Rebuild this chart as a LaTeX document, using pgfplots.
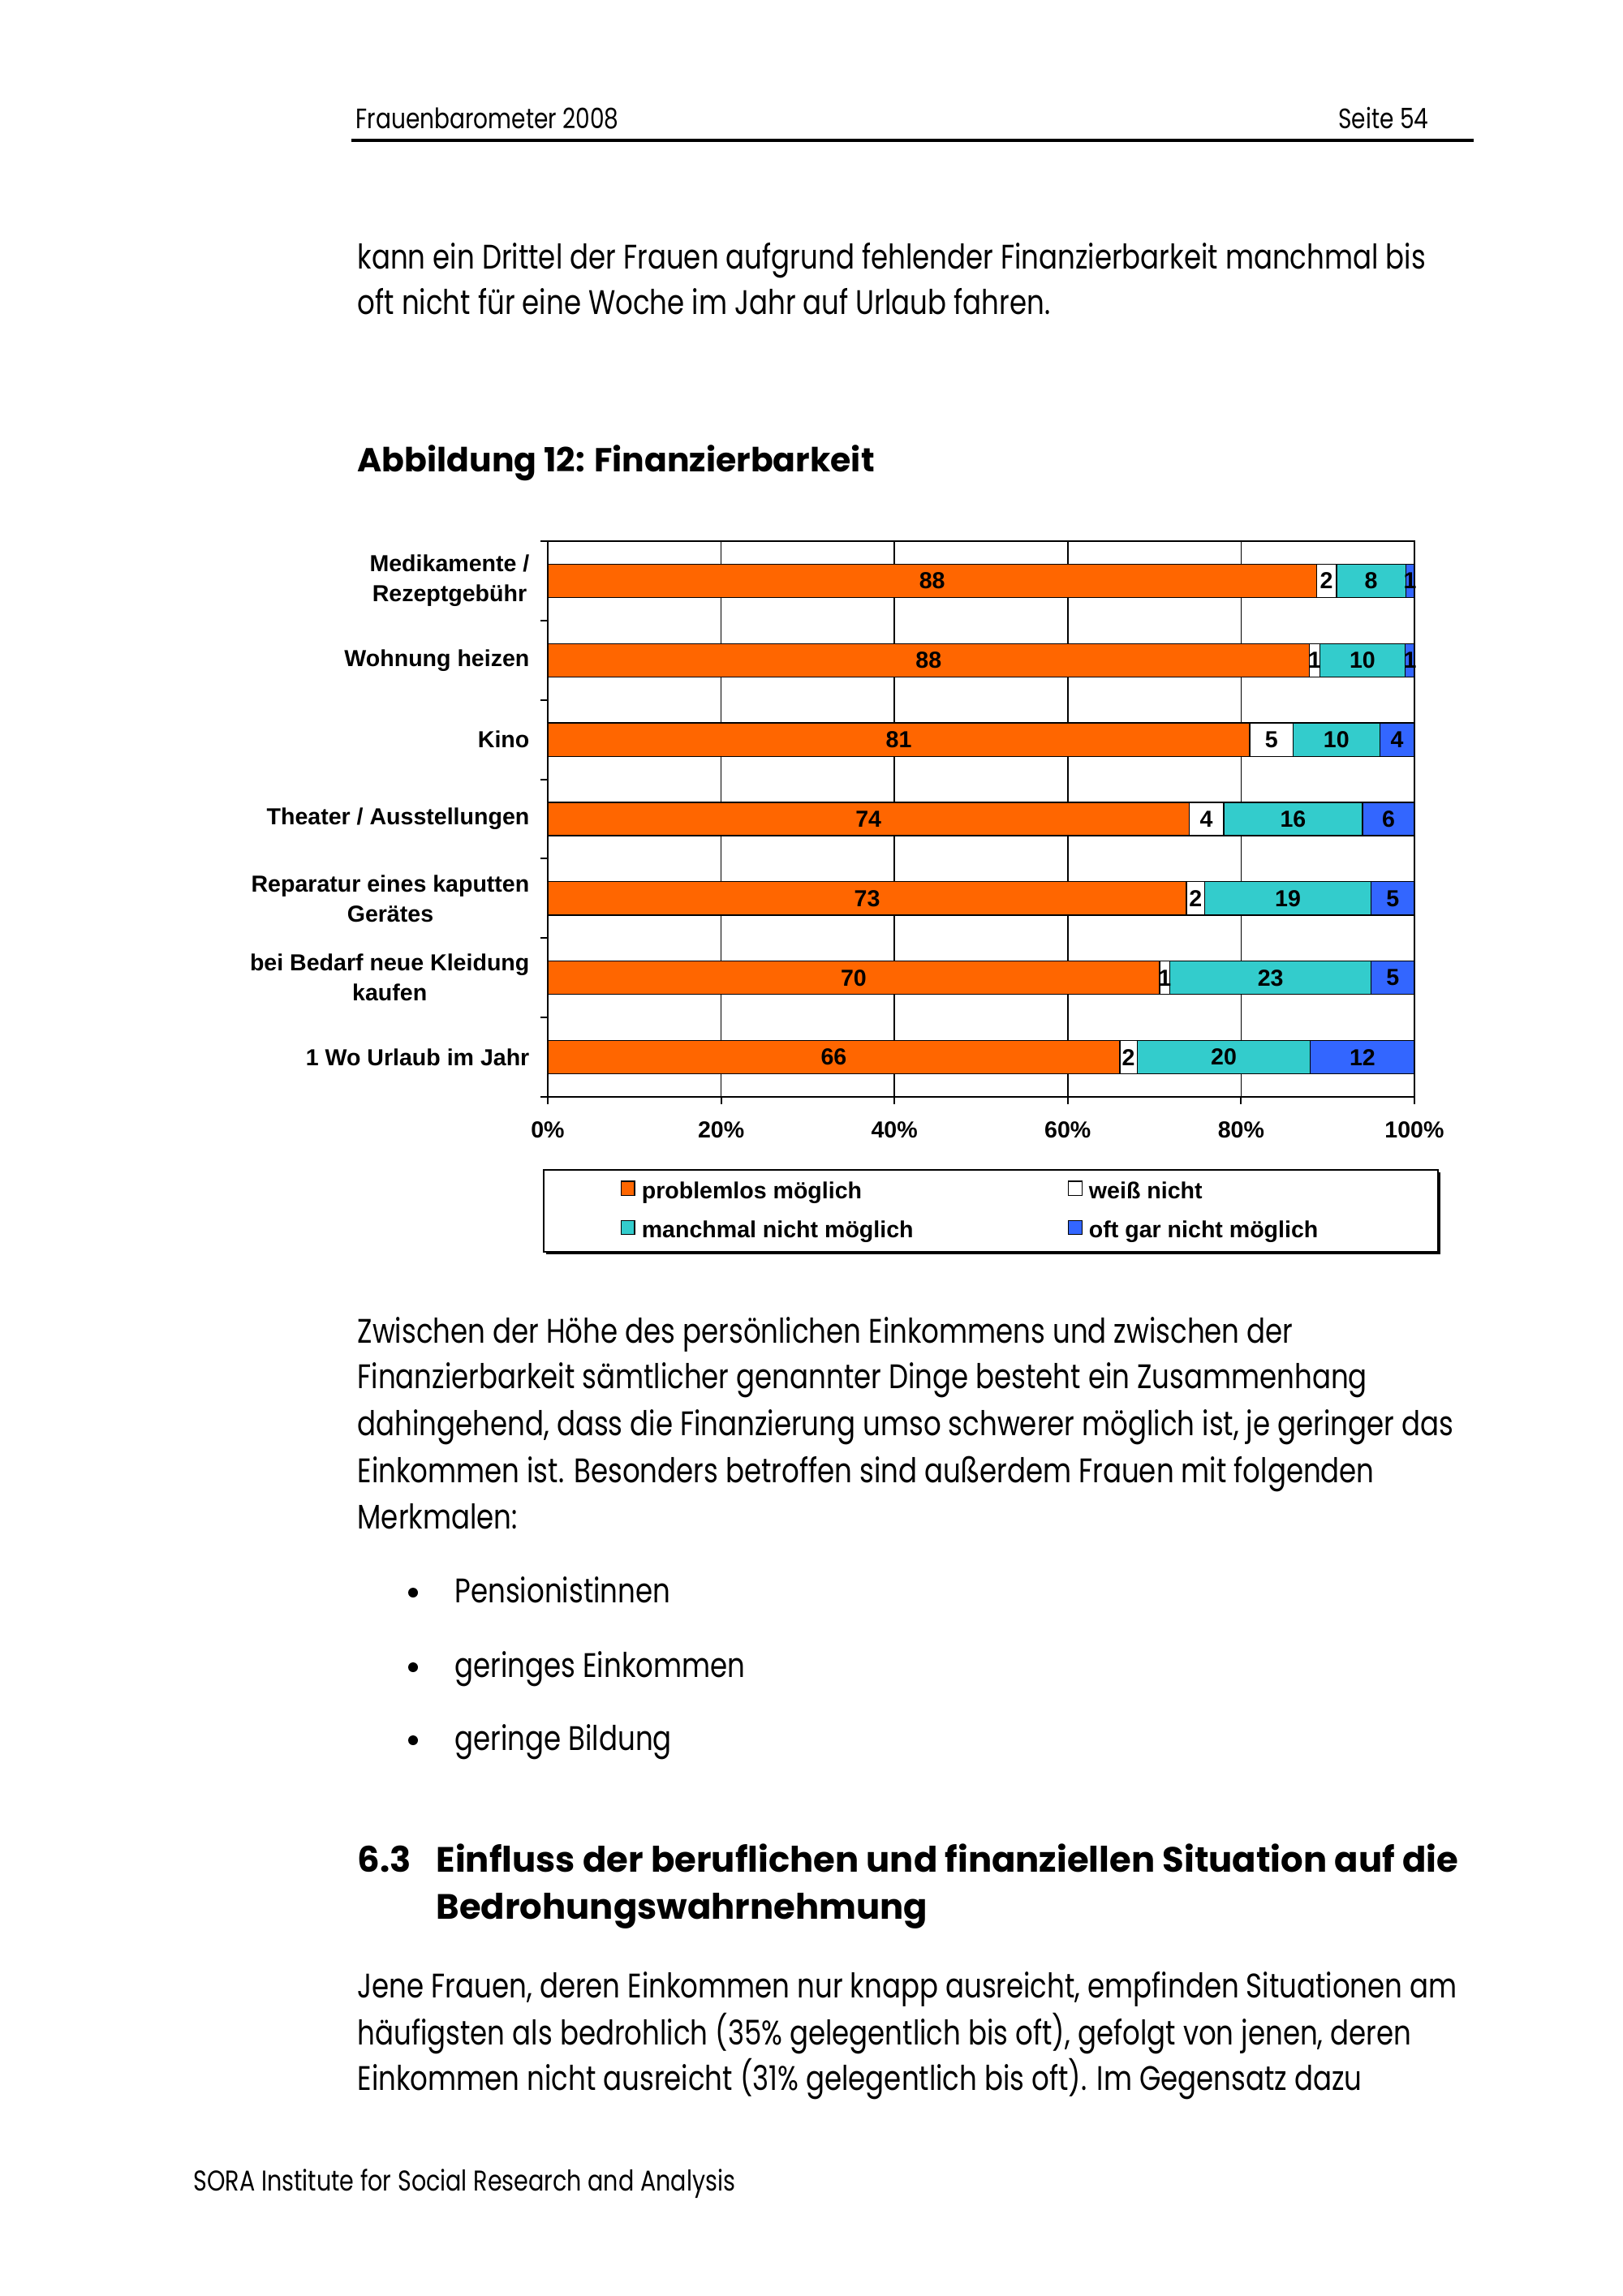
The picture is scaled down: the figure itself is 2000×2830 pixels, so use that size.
\documentclass[border=0pt]{standalone}
\usepackage{pgfplots}
\pgfplotsset{compat=1.18}
\usepackage{pgfplotstable}
\usepackage{fontspec}
\setmainfont[FakeStretch=0.81]{Poppins}
\newfontfamily\headfont{Poppins}
\newfontfamily\chartfont{Liberation Sans}
\definecolor{cOrange}{HTML}{FF6600}
\definecolor{cTeal}{HTML}{33CCCC}
\definecolor{cBlue}{HTML}{3366FF}
\newcommand\chartlab{\chartfont\bfseries\fontsize{8.5}{11}\selectfont}
\newcommand\bodyf{\fontsize{12.5}{15}\selectfont}
\newcommand\smallf{\fontsize{10.3}{12}\selectfont}

% segment widths (percent of bar), y = category position
\pgfplotstableread{
y a b c d
0 66.0 2.0 20.0 12.0
1 70.6 1.2 23.2 5.0
2 73.7 2.1 19.2 5.0
3 74.0 4.0 16.0 6.0
4 81.0 5.0 10.0 4.0
5 87.9 1.2 9.8 1.1
6 88.7 2.3 8.0 1.0
}\segs

% data labels: centre of segment, category, shown value
\pgfplotstableread{
x y lab
33.0 0 66
67.0 0 2
78.0 0 20
94.0 0 12
35.3 1 70
71.2 1 1
83.4 1 23
97.5 1 5
36.85 2 73
74.75 2 2
85.4 2 19
97.5 2 5
37.0 3 74
76.0 3 4
86.0 3 16
97.0 3 6
40.5 4 81
83.5 4 5
91.0 4 10
98.0 4 4
43.95 5 88
88.5 5 1
94.0 5 10
99.5 5 1
44.35 6 88
89.85 6 2
95.0 6 8
99.5 6 1
}\labs

\pgfplotsset{mylegend/.style={legend image code/.code={\draw[##1, draw=black, line width=0.4pt] (0pt,-1.2pt) rectangle (5pt,4pt);}}}

\begin{document}
\begin{tikzpicture}
\begin{scope}[x=0.29765pt,y=-0.29765pt]
\useasboundingbox (0,0) rectangle (2000,2830);
% header
\node[anchor=base west, inner sep=0pt, font=\smallf] at (438,159) {Frauenbarometer 2008};
\node[anchor=base east, inner sep=0pt, font=\smallf] at (1761,159) {Seite 54};
\draw[line width=0.9pt] (433,173) -- (1816,173);
% paragraph 1
\node[anchor=base west, inner sep=0pt, font=\bodyf] at (440,332) {kann ein Drittel der Frauen aufgrund fehlender Finanzierbarkeit manchmal bis};
\node[anchor=base west, inner sep=0pt, font=\bodyf] at (440,388) {oft nicht für eine Woche im Jahr auf Urlaub fahren.};
% title
\node[anchor=base west, inner sep=0pt, font=\headfont\fontsize{12.2}{15}\selectfont\bfseries] at (440,581) {Abbildung 12: Finanzierbarkeit};
% legend frame with shadow
\fill[black] (673,1445) rectangle (1775,1546);
\filldraw[fill=white, draw=black, line width=0.5pt] (670,1442) rectangle (1772,1543);
% paragraph 2
\node[anchor=base west, inner sep=0pt, font=\bodyf] at (440,1655) {Zwischen der Höhe des persönlichen Einkommens und zwischen der};
\node[anchor=base west, inner sep=0pt, font=\bodyf] at (440,1711) {Finanzierbarkeit sämtlicher genannter Dinge besteht ein Zusammenhang};
\node[anchor=base west, inner sep=0pt, font=\bodyf] at (440,1769) {dahingehend, dass die Finanzierung umso schwerer möglich ist, je geringer das};
\node[anchor=base west, inner sep=0pt, font=\bodyf] at (440,1827) {Einkommen ist. Besonders betroffen sind außerdem Frauen mit folgenden};
\node[anchor=base west, inner sep=0pt, font=\bodyf] at (440,1884) {Merkmalen:};
% bullets
\fill (509,1963) circle (6);
\fill (509,2055) circle (6);
\fill (509,2145) circle (6);
\node[anchor=base west, inner sep=0pt, font=\bodyf] at (560,1975) {Pensionistinnen};
\node[anchor=base west, inner sep=0pt, font=\bodyf] at (560,2067) {geringes Einkommen};
\node[anchor=base west, inner sep=0pt, font=\bodyf] at (560,2157) {geringe Bildung};
% heading
\node[anchor=base west, inner sep=0pt, font=\headfont\fontsize{12.9}{16}\selectfont\bfseries] at (440,2307) {6.3};
\node[anchor=base west, inner sep=0pt, font=\headfont\fontsize{12.9}{16}\selectfont\bfseries] at (537,2307) {Einfluss der beruflichen und finanziellen Situation auf die};
\node[anchor=base west, inner sep=0pt, font=\headfont\fontsize{12.9}{16}\selectfont\bfseries] at (537,2365) {Bedrohungswahrnehmung};
% paragraph 3
\node[anchor=base west, inner sep=0pt, font=\bodyf] at (440,2462) {Jene Frauen, deren Einkommen nur knapp ausreicht, empfinden Situationen am};
\node[anchor=base west, inner sep=0pt, font=\bodyf] at (440,2520) {häufigsten als bedrohlich (35\% gelegentlich bis oft), gefolgt von jenen, deren};
\node[anchor=base west, inner sep=0pt, font=\bodyf] at (440,2576) {Einkommen nicht ausreicht (31\% gelegentlich bis oft). Im Gegensatz dazu};
% footer
\node[anchor=base west, inner sep=0pt, font=\fontsize{10.5}{12}\selectfont] at (238,2700) {SORA Institute for Social Research and Analysis};
\end{scope}

\begin{axis}[
  at={(200.91pt,-402.42pt)}, anchor=south west,
  scale only axis, width=317.89pt, height=203.89pt,
  xbar stacked, bar width=0.42,
  xmin=0, xmax=100, ymin=-0.5, ymax=6.5,
  axis line style={black, line width=0.6pt},
  xtick={0,20,40,60,80,100},
  xticklabels={0\%,20\%,40\%,60\%,80\%,100\%},
  xmajorgrids, major grid style={black, line width=0.5pt},
  ytick={-0.5,0.5,1.5,2.5,3.5,4.5,5.5},
  yticklabels={{1 Wo Urlaub im Jahr},{bei Bedarf neue Kleidung\\kaufen},{Reparatur eines kaputten\\Gerätes},{Theater / Ausstellungen},{Kino},{Wohnung heizen},{Medikamente /\\Rezeptgebühr}},
  extra y ticks={6.5}, extra y tick labels={},
  tick align=outside, major tick length=2.6pt,
  xtick pos=bottom, ytick pos=left,
  tick style={black, line width=0.6pt},
  ticklabel style={font=\chartlab},
  xticklabel style={yshift=-3pt},
  yticklabel style={align=center, yshift=14.57pt, xshift=-0.6pt},
  legend columns=2,
  legend cell align=left,
  legend style={at={(axis description cs:0.0833,-0.1500)}, anchor=north west,
    draw=none, fill=none, font=\chartlab, inner sep=0pt, row sep=6.0pt,
    nodes={inner sep=0pt, text height=6.5pt, text depth=1.8pt},
    /tikz/every odd column/.append style={column sep=2.4pt},
    /tikz/every even column/.append style={column sep=56.6pt}},
]
\addplot[fill=cOrange, draw=black, line width=0.4pt, mylegend] table[x=a, y=y] {\segs};
\addplot[fill=white, draw=black, line width=0.4pt, mylegend] table[x=b, y=y] {\segs};
\addplot[fill=cTeal, draw=black, line width=0.4pt, mylegend] table[x=c, y=y] {\segs};
\addplot[fill=cBlue, draw=black, line width=0.4pt, mylegend] table[x=d, y=y] {\segs};
\legend{problemlos möglich, weiß nicht, manchmal nicht möglich, oft gar nicht möglich}
\end{axis}

\begin{axis}[
  at={(200.91pt,-402.42pt)}, anchor=south west,
  scale only axis, width=317.89pt, height=203.89pt,
  xmin=0, xmax=100, ymin=-0.5, ymax=6.5, hide axis]
\addplot[draw=none, mark=none, nodes near coords, point meta=explicit symbolic,
  every node near coord/.append style={anchor=center, font=\chartlab, inner sep=0pt}]
  table[x=x, y=y, meta=lab] {\labs};
\end{axis}
\end{tikzpicture}
\end{document}
